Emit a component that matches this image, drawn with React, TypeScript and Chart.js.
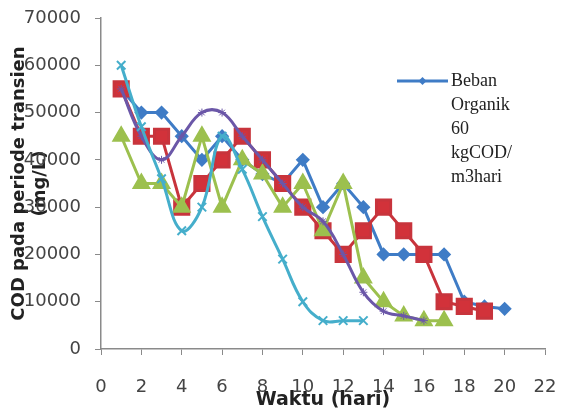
import React, { useEffect, useRef } from "react";
import { Chart, registerables } from "chart.js";

Chart.register(...registerables);

// ---- data ----
const days = [1, 2, 3, 4, 5, 6, 7, 8, 9, 10, 11, 12, 13, 14, 15, 16, 17, 18, 19, 20];
const xTicks = [0, 2, 4, 6, 8, 10, 12, 14, 16, 18, 20, 22];
const yTicks = [0, 10000, 20000, 30000, 40000, 50000, 60000, 70000];

const legendLabel = ["Beban", "Organik", "60", "kgCOD/", "m3hari"];
const blueValues = [55000, 50000, 50000, 45000, 40000, 45000, 40000, 37000, 35000, 40000, 30000, 35000, 30000, 20000, 20000, 20000, 20000, 10000, 9000, 8500];
const redValues = [55000, 45000, 45000, 30000, 35000, 40000, 45000, 40000, 35000, 30000, 25000, 20000, 25000, 30000, 25000, 20000, 10000, 9000, 8000];
const greenValues = [45000, 35000, 35000, 30000, 45000, 30000, 40000, 37000, 30000, 35000, 25000, 35000, 15000, 10000, 7000, 6000, 6000];
const purpleValues = [55000, 45000, 40000, 45000, 50000, 50000, 45000, 40000, 35000, 30000, 27000, 20000, 12000, 8000, 7000, 6000];
const cyanValues = [60000, 47000, 36000, 25000, 30000, 45000, 38000, 28000, 19000, 10000, 6000, 6000, 6000];

const toPoints = (vals: number[]) => vals.map((v, i) => ({ x: days[i], y: v }));

const legendPlugin = {
  id: "sideLegend",
  afterDraw(chart: any) {
    const ctx = chart.ctx;
    const ds = chart.data.datasets[0];
    const x0 = 397;
    const x1 = 448;
    const y0 = 81;
    ctx.save();
    ctx.strokeStyle = ds.borderColor;
    ctx.lineWidth = 3;
    ctx.beginPath();
    ctx.moveTo(x0, y0);
    ctx.lineTo(x1, y0);
    ctx.stroke();
    ctx.fillStyle = ds.backgroundColor;
    ctx.beginPath();
    const r = 4;
    const cx = (x0 + x1) / 2;
    ctx.moveTo(cx, y0 - r);
    ctx.lineTo(cx + r, y0);
    ctx.lineTo(cx, y0 + r);
    ctx.lineTo(cx - r, y0);
    ctx.closePath();
    ctx.fill();
    ctx.font = '18px "Liberation Serif"';
    ctx.fillStyle = "#222";
    ctx.textBaseline = "middle";
    ctx.textAlign = "left";
    legendLabel.forEach((t, i) => ctx.fillText(t, 451, y0 + i * 24));
    ctx.restore();
  },
};

export default function App() {
  const ref = useRef<HTMLCanvasElement | null>(null);
  useEffect(() => {
    if (!ref.current) return;
    const chart = new Chart(ref.current, {
      type: "line",
      data: {
        datasets: [
          {
            label: legendLabel.join(" "),
            data: toPoints(blueValues),
            borderColor: "#3f7cc6",
            backgroundColor: "#3f7cc6",
            borderWidth: 3,
            pointStyle: "rectRot",
            pointRadius: 5,
            tension: 0,
            order: 5,
          },
          {
            label: "Series 2",
            data: toPoints(redValues),
            borderColor: "#c8343c",
            backgroundColor: "#d2323a",
            borderWidth: 3,
            pointStyle: "rect",
            pointRadius: 10,
            tension: 0,
            order: 4,
          },
          {
            label: "Series 3",
            data: toPoints(greenValues),
            borderColor: "#9cc04e",
            backgroundColor: "#9cc04e",
            borderWidth: 3,
            pointStyle: "triangle",
            pointRadius: 8,
            tension: 0,
            order: 3,
          },
          {
            label: "Series 4",
            data: toPoints(purpleValues),
            borderColor: "#6b57a8",
            backgroundColor: "#6b57a8",
            borderWidth: 3,
            pointStyle: "star",
            pointRadius: 4,
            pointBorderWidth: 1,
            tension: 0.4,
            order: 2,
          },
          {
            label: "Series 5",
            data: toPoints(cyanValues),
            borderColor: "#45aecb",
            backgroundColor: "#45aecb",
            borderWidth: 3,
            pointStyle: "crossRot",
            pointRadius: 6,
            pointBorderWidth: 2,
            tension: 0.4,
            order: 1,
          },
        ],
      },
      options: {
        animation: false,
        responsive: false,
        layout: { padding: { top: 18, right: 16, left: 0, bottom: 0 } },
        plugins: { legend: { display: false }, tooltip: { enabled: false } },
        scales: {
          x: {
            type: "linear",
            min: xTicks[0],
            max: xTicks[xTicks.length - 1],
            afterBuildTicks: (s: any) => {
              s.ticks = xTicks.map((v) => ({ value: v }));
            },
            afterFit: (s: any) => {
              s.height = 61;
              s.paddingLeft = 0;
              s.paddingRight = 0;
            },
            ticks: {
              color: "#444",
              padding: 22,
              font: { family: "DejaVu Sans", size: 18 },
              callback: (v: any) => String(v),
            },
            grid: { drawOnChartArea: false, tickLength: 6, color: "#8a8a8a" },
            border: { color: "#8a8a8a", width: 1.5 },
            title: {
              display: true,
              text: "Waktu (hari)",
              color: "#222",
              font: { family: "DejaVu Sans", size: 19, weight: "bold", lineHeight: 1.05 },
              padding: { top: 0, bottom: 0 },
            },
          },
          y: {
            type: "linear",
            min: yTicks[0],
            max: yTicks[yTicks.length - 1],
            afterBuildTicks: (s: any) => {
              s.ticks = yTicks.map((v) => ({ value: v }));
            },
            afterFit: (s: any) => {
              s.width = 101;
              s.paddingTop = 0;
              s.paddingBottom = 0;
            },
            ticks: {
              color: "#444",
              padding: 14,
              font: { family: "DejaVu Sans", size: 18 },
              callback: (v: any) => String(v),
            },
            grid: { drawOnChartArea: false, tickLength: 6, color: "#8a8a8a" },
            border: { color: "#8a8a8a", width: 1.5 },
            title: {
              display: true,
              text: ["COD pada periode transien", "(mg/L)"],
              color: "#222",
              font: { family: "DejaVu Sans", size: 18, weight: "bold", lineHeight: 1.15 },
              padding: { top: 9, bottom: 0 },
            },
          },
        },
      },
      plugins: [legendPlugin],
    });
    return () => chart.destroy();
  }, []);
  return (
    <div style={{ position: "fixed", left: 0, top: 0, width: 561, height: 410, background: "#fff" }}>
      <canvas ref={ref} width={561} height={410} />
    </div>
  );
}
